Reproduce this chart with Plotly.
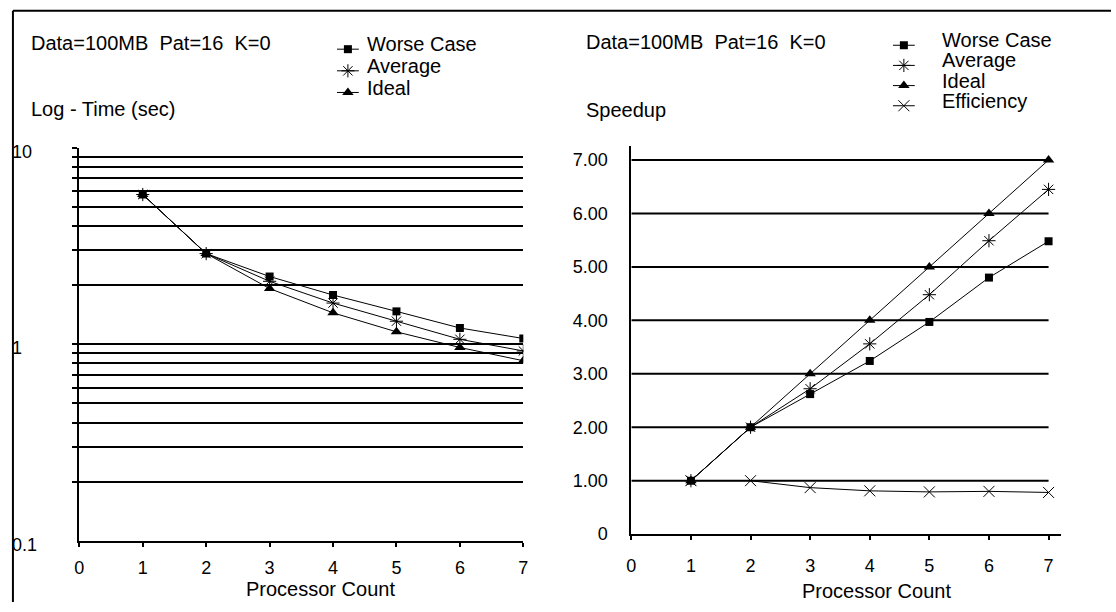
import math
import plotly.graph_objects as go

# ---- data -------------------------------------------------------------
procs = [1, 2, 3, 4, 5, 6, 7]

# run time in seconds (log-scale panel)
time_worse = [5.77, 2.89, 2.21, 1.78, 1.47, 1.21, 1.07]
time_avg = [5.77, 2.89, 2.09, 1.62, 1.31, 1.06, 0.925]
time_ideal = [5.77, 2.89, 1.92, 1.445, 1.157, 0.963, 0.825]

# speedup and efficiency panel
speed_worse = [1.00, 2.00, 2.62, 3.24, 3.97, 4.80, 5.48]
speed_avg = [1.00, 2.00, 2.72, 3.56, 4.48, 5.49, 6.45]
speed_ideal = [1, 2, 3, 4, 5, 6, 7]
efficiency = [1.00, 1.00, 0.87, 0.81, 0.79, 0.80, 0.78]

x_ticks = [0, 1, 2, 3, 4, 5, 6, 7]
log_grid = [0.2, 0.3, 0.4, 0.5, 0.6, 0.7, 0.8, 0.9, 1, 2, 3, 4, 5, 6, 7, 8, 9, 10]
log_labels = ["0.1", "1", "10"]
log_label_vals = [0.1, 1, 10]
speed_ticks = [0, 1, 2, 3, 4, 5, 6, 7]
speed_ticktext = ["0", "1.00", "2.00", "3.00", "4.00", "5.00", "6.00", "7.00"]

caption = "Data=100MB  Pat=16  K=0"
time_series = ["Worse Case", "Average", "Ideal"]
speed_series = ["Worse Case", "Average", "Ideal", "Efficiency"]

# ---- layout helpers ---------------------------------------------------
W, H = 1116, 612
FONT = "Liberation Sans"
INK = "black"
TXT = 20
TICK = 18


def px(x):
    return x / W


def py(y):
    return 1 - y / H


styles = {
    "Worse Case": dict(symbol="square", size=8, color=INK),
    "Average": dict(symbol="asterisk-open", size=11, color=INK, line=dict(width=1, color=INK)),
    "Ideal": dict(symbol="triangle-up", size=10, color=INK),
    "Efficiency": dict(symbol="x-thin-open", size=11, color=INK, line=dict(width=1, color=INK)),
}

fig = go.Figure()

for name, ys in zip(time_series, [time_worse, time_avg, time_ideal]):
    fig.add_trace(go.Scatter(
        x=procs, y=ys, mode="lines+markers", name=name, showlegend=False,
        line=dict(color=INK, width=1), marker=styles[name],
        xaxis="x", yaxis="y",
    ))

for name, ys in zip(speed_series, [speed_worse, speed_avg, speed_ideal, efficiency]):
    fig.add_trace(go.Scatter(
        x=procs, y=ys, mode="lines+markers", name=name, showlegend=False,
        line=dict(color=INK, width=1), marker=styles[name],
        xaxis="x2", yaxis="y2",
    ))

# ---- legend keys, drawn on a hidden full-page pixel axis ----------------
ann = []
txt = dict(family=FONT, size=TXT, color=INK)


def legend_block(names, key_x, text_x, first_y, step):
    for i, name in enumerate(names):
        yc = first_y + i * step
        fig.add_trace(go.Scatter(
            x=[key_x - 11, key_x + 11], y=[yc + 5, yc + 5], mode="lines",
            line=dict(color=INK, width=1), showlegend=False, hoverinfo="skip",
            xaxis="x3", yaxis="y3",
        ))
        fig.add_trace(go.Scatter(
            x=[key_x], y=[yc + 5], mode="markers", marker=styles[name],
            showlegend=False, hoverinfo="skip", xaxis="x3", yaxis="y3",
        ))
        ann.append(dict(xref="paper", yref="paper", x=px(text_x - 4), y=py(yc),
                        text=name, showarrow=False, xanchor="left",
                        yanchor="middle", font=txt))


legend_block(time_series, 346, 367, 45, 22)
legend_block(speed_series, 907, 947, 41, 20.5)

axis_common = dict(
    showline=True, linecolor=INK, linewidth=2, zeroline=False,
    tickfont=dict(family=FONT, size=TICK, color=INK),
    fixedrange=True,
)

fig.update_layout(
    xaxis=dict(axis_common, domain=[px(75), px(523)], range=[0, 7], anchor="y",
               tickvals=x_ticks, ticks="outside", ticklen=4, tickwidth=2,
               tickcolor=INK, showgrid=False, ticklabelstandoff=5),
    yaxis=dict(axis_common, domain=[py(550), py(150)], type="log", range=[-1, 1],
               anchor="x", tickvals=log_grid, showticklabels=False,
               ticks="outside", ticklen=5, tickwidth=2, tickcolor=INK,
               showgrid=True, gridcolor=INK, gridwidth=2),
    xaxis2=dict(axis_common, domain=[px(632), px(1066)], range=[0, 7 * 434 / 421],
                anchor="y2", tickvals=x_ticks, ticks="outside", ticklen=4,
                tickwidth=2, tickcolor=INK, showgrid=False, ticklabelstandoff=10),
    yaxis2=dict(axis_common, domain=[py(543), py(148)], range=[0, 7.27],
                anchor="x2", tickvals=speed_ticks, ticktext=speed_ticktext,
                ticks="", showgrid=False, ticklabelstandoff=18),
    xaxis3=dict(domain=[0, 1], range=[0, W], visible=False, fixedrange=True,
                anchor="y3"),
    yaxis3=dict(domain=[0, 1], range=[H, 0], visible=False, fixedrange=True,
                anchor="x3"),
)

# horizontal rules of the speedup panel stop at the last processor count
for v in speed_ticks[1:]:
    fig.add_shape(type="line", xref="x2", yref="y2", x0=0, x1=7, y0=v, y1=v,
                  line=dict(color=INK, width=2), layer="below")

# frame around the figure
fig.add_shape(type="line", xref="paper", yref="paper", x0=px(8), x1=1, y0=py(11), y1=py(11),
              line=dict(color=INK, width=2))
fig.add_shape(type="line", xref="paper", yref="paper", x0=px(8), x1=px(8), y0=py(11), y1=0,
              line=dict(color=INK, width=2))

# decade labels of the log axis sit at the far left edge of the panel
for lbl, v in zip(log_labels, log_label_vals):
    ann.append(dict(xref="paper", yref="y", x=px(5), y=math.log10(v), yshift=-4,
                    text=lbl, showarrow=False, xanchor="left", yanchor="middle",
                    font=dict(family=FONT, size=TICK, color=INK)))
ann += [
    dict(xref="paper", yref="paper", x=px(24), y=py(44), text=caption, showarrow=False,
         xanchor="left", yanchor="middle", font=txt),
    dict(xref="paper", yref="paper", x=px(584), y=py(43), text=caption, showarrow=False,
         xanchor="left", yanchor="middle", font=txt),
    dict(xref="paper", yref="paper", x=px(24), y=py(111), text="Log - Time (sec)",
         showarrow=False, xanchor="left", yanchor="middle", font=txt),
    dict(xref="paper", yref="paper", x=px(584), y=py(112), text="Speedup",
         showarrow=False, xanchor="left", yanchor="middle", font=txt),
    dict(xref="paper", yref="paper", x=px(318), y=py(599), text="Processor Count",
         showarrow=False, xanchor="center", yanchor="middle", font=txt),
    dict(xref="paper", yref="paper", x=px(879), y=py(601), text="Processor Count",
         showarrow=False, xanchor="center", yanchor="middle", font=txt),
]

fig.update_layout(
    width=W, height=H,
    margin=dict(l=0, r=0, t=0, b=0),
    paper_bgcolor="white", plot_bgcolor="rgba(0,0,0,0)",
    font=dict(family=FONT, size=TXT, color=INK),
    annotations=ann,
    showlegend=False,
)

fig.write_html("out.html")
